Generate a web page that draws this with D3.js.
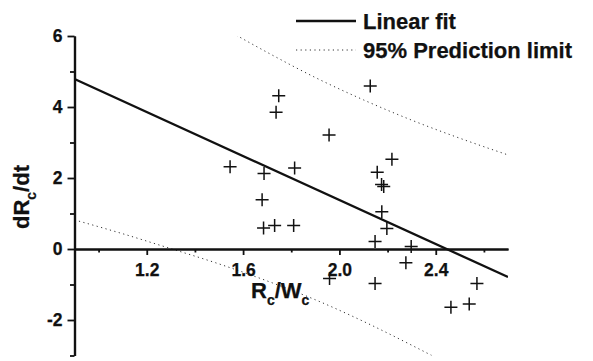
<!DOCTYPE html>
<html>
<head>
<meta charset="utf-8">
<title>dRc/dt vs Rc/Wc</title>
<style>
  body { margin: 0; background: #fff; }
  svg text { font-family: "Liberation Sans", Arial, sans-serif; font-weight: bold; fill: #111; stroke: #111; stroke-width: 0.25px; }
</style>
</head>
<body>
<div id="container"></div>
<script src="https://cdn.jsdelivr.net/npm/d3@7"></script>
<script>
// scatter points (Rc/Wc, dRc/dt)
var ptX = [1.748, 1.737, 1.546, 1.687, 1.814, 1.957, 1.679, 1.685, 1.731, 1.810,
           2.128, 2.218, 2.157, 2.175, 2.184, 2.176, 2.197, 2.148, 2.298, 2.276,
           1.959, 2.148, 2.571, 2.463, 2.539];
var ptY = [4.32, 3.85, 2.32, 2.13, 2.28, 3.21, 1.39, 0.59, 0.66, 0.66,
           4.59, 2.53, 2.16, 1.82, 1.76, 1.05, 0.58, 0.21, 0.07, -0.39,
           -0.83, -0.97, -0.97, -1.64, -1.55];

// linear fit end points
var fitX = [0.9, 2.7];
var fitY = [4.79, -0.79];

// 95% prediction limits
var limX = [0.9, 1.1, 1.3, 1.5, 1.7, 1.9, 2.1, 2.3, 2.5, 2.7];
var upperY = [8.76, 7.91, 7.09, 6.30, 5.54, 4.83, 4.20, 3.63, 3.12, 2.65];
var lowerY = [0.82, 0.43, 0.01, -0.42, -0.90, -1.43, -2.04, -2.71, -3.42, -4.19];

var xMajor = [1.2, 1.6, 2.0, 2.4], xMinor = [1.0, 1.4, 1.8, 2.2, 2.6];
var yMajor = [-2, 0, 2, 4, 6], yMinor = [-3, -1, 1, 3, 5];

var legendLabels = ["Linear fit", "95% Prediction limit"];

var W = 593, H = 361;
var x = d3.scaleLinear().domain([0.9, 2.7]).range([74.5, 508]);
var y = d3.scaleLinear().domain([-3, 6]).range([355.5, 36]);

var svg = d3.select("#container").append("svg")
  .attr("width", W).attr("height", H);

svg.append("defs").append("clipPath").attr("id", "plot")
  .append("rect")
  .attr("x", x(0.9)).attr("y", y(6))
  .attr("width", x(2.7) - x(0.9)).attr("height", y(-3) - y(6));

var line = d3.line().x(function(d) { return x(d[0]); }).y(function(d) { return y(d[1]); });
var curve = d3.line().x(function(d) { return x(d[0]); }).y(function(d) { return y(d[1]); })
  .curve(d3.curveMonotoneX);

var g = svg.append("g").attr("clip-path", "url(#plot)");

// prediction limits
[upperY, lowerY].forEach(function(arr) {
  g.append("path")
    .datum(limX.map(function(v, i) { return [v, arr[i]]; }))
    .attr("d", curve)
    .attr("fill", "none")
    .attr("stroke", "#333")
    .attr("stroke-width", 1)
    .attr("stroke-dasharray", "1.2,3.4");
});

// fit line
g.append("path")
  .datum(fitX.map(function(v, i) { return [v, fitY[i]]; }))
  .attr("d", line)
  .attr("fill", "none")
  .attr("stroke", "#111")
  .attr("stroke-width", 2.3);

// axes
function styleAxis(sel) {
  sel.select(".domain").attr("stroke", "#111").attr("stroke-width", 2.2);
  sel.selectAll(".tick line").attr("stroke", "#111").attr("stroke-width", 1.8);
  sel.selectAll(".tick text").attr("font-size", 17.5).attr("fill", "#111");
}

svg.append("g").attr("transform", "translate(" + x(0.9) + ",0)")
  .call(d3.axisLeft(y).tickValues(yMajor).tickSize(7).tickSizeOuter(0).tickPadding(5)
    .tickFormat(function(d) { return String(d); }))
  .call(styleAxis);
svg.append("g").attr("transform", "translate(" + x(0.9) + ",0)")
  .call(d3.axisLeft(y).tickValues(yMinor).tickSize(4.5).tickSizeOuter(0).tickFormat(""))
  .call(styleAxis);

svg.append("g").attr("transform", "translate(0," + y(0) + ")")
  .call(d3.axisBottom(x).tickValues(xMajor).tickSize(6).tickSizeOuter(0).tickPadding(9)
    .tickFormat(d3.format(".1f")))
  .call(styleAxis);
svg.append("g").attr("transform", "translate(0," + y(0) + ")")
  .call(d3.axisBottom(x).tickValues(xMinor).tickSize(3.5).tickSizeOuter(0).tickFormat(""))
  .call(styleAxis);

// points as plus markers
var s = 6.5;
var pts = svg.append("g").selectAll("g")
  .data(ptX.map(function(v, i) { return [v, ptY[i]]; }))
  .enter().append("g")
  .attr("transform", function(d) { return "translate(" + x(d[0]) + "," + y(d[1]) + ")"; });
pts.append("path")
  .attr("d", "M" + (-s) + ",0H" + s + "M0," + (-s) + "V" + s)
  .attr("stroke", "#111")
  .attr("stroke-width", 1.5)
  .attr("fill", "none");

// axis titles
var xt = svg.append("text").attr("x", 251).attr("y", 298).attr("font-size", 22);
xt.append("tspan").text("R");
xt.append("tspan").attr("font-size", 14).attr("dy", 7).text("c");
xt.append("tspan").attr("dy", -7).text("/W");
xt.append("tspan").attr("font-size", 14).attr("dy", 7).text("c");

var yt = svg.append("text")
  .attr("transform", "translate(29,197) rotate(-90)")
  .attr("text-anchor", "middle")
  .attr("font-size", 22);
yt.append("tspan").text("dR");
yt.append("tspan").attr("font-size", 14).attr("dy", 7).text("c");
yt.append("tspan").attr("dy", -7).text("/dt");

// legend
var lg = svg.append("g");
lg.append("line").attr("x1", 296).attr("x2", 356).attr("y1", 21).attr("y2", 21)
  .attr("stroke", "#111").attr("stroke-width", 2.3);
lg.append("line").attr("x1", 296).attr("x2", 356).attr("y1", 50).attr("y2", 50)
  .attr("stroke", "#333").attr("stroke-width", 1).attr("stroke-dasharray", "1.2,3.4");
lg.selectAll("text").data(legendLabels).enter().append("text")
  .attr("x", 363)
  .attr("y", function(d, i) { return 28.5 + i * 29.5; })
  .attr("font-size", 22)
  .text(function(d) { return d; });
</script>
</body>
</html>
